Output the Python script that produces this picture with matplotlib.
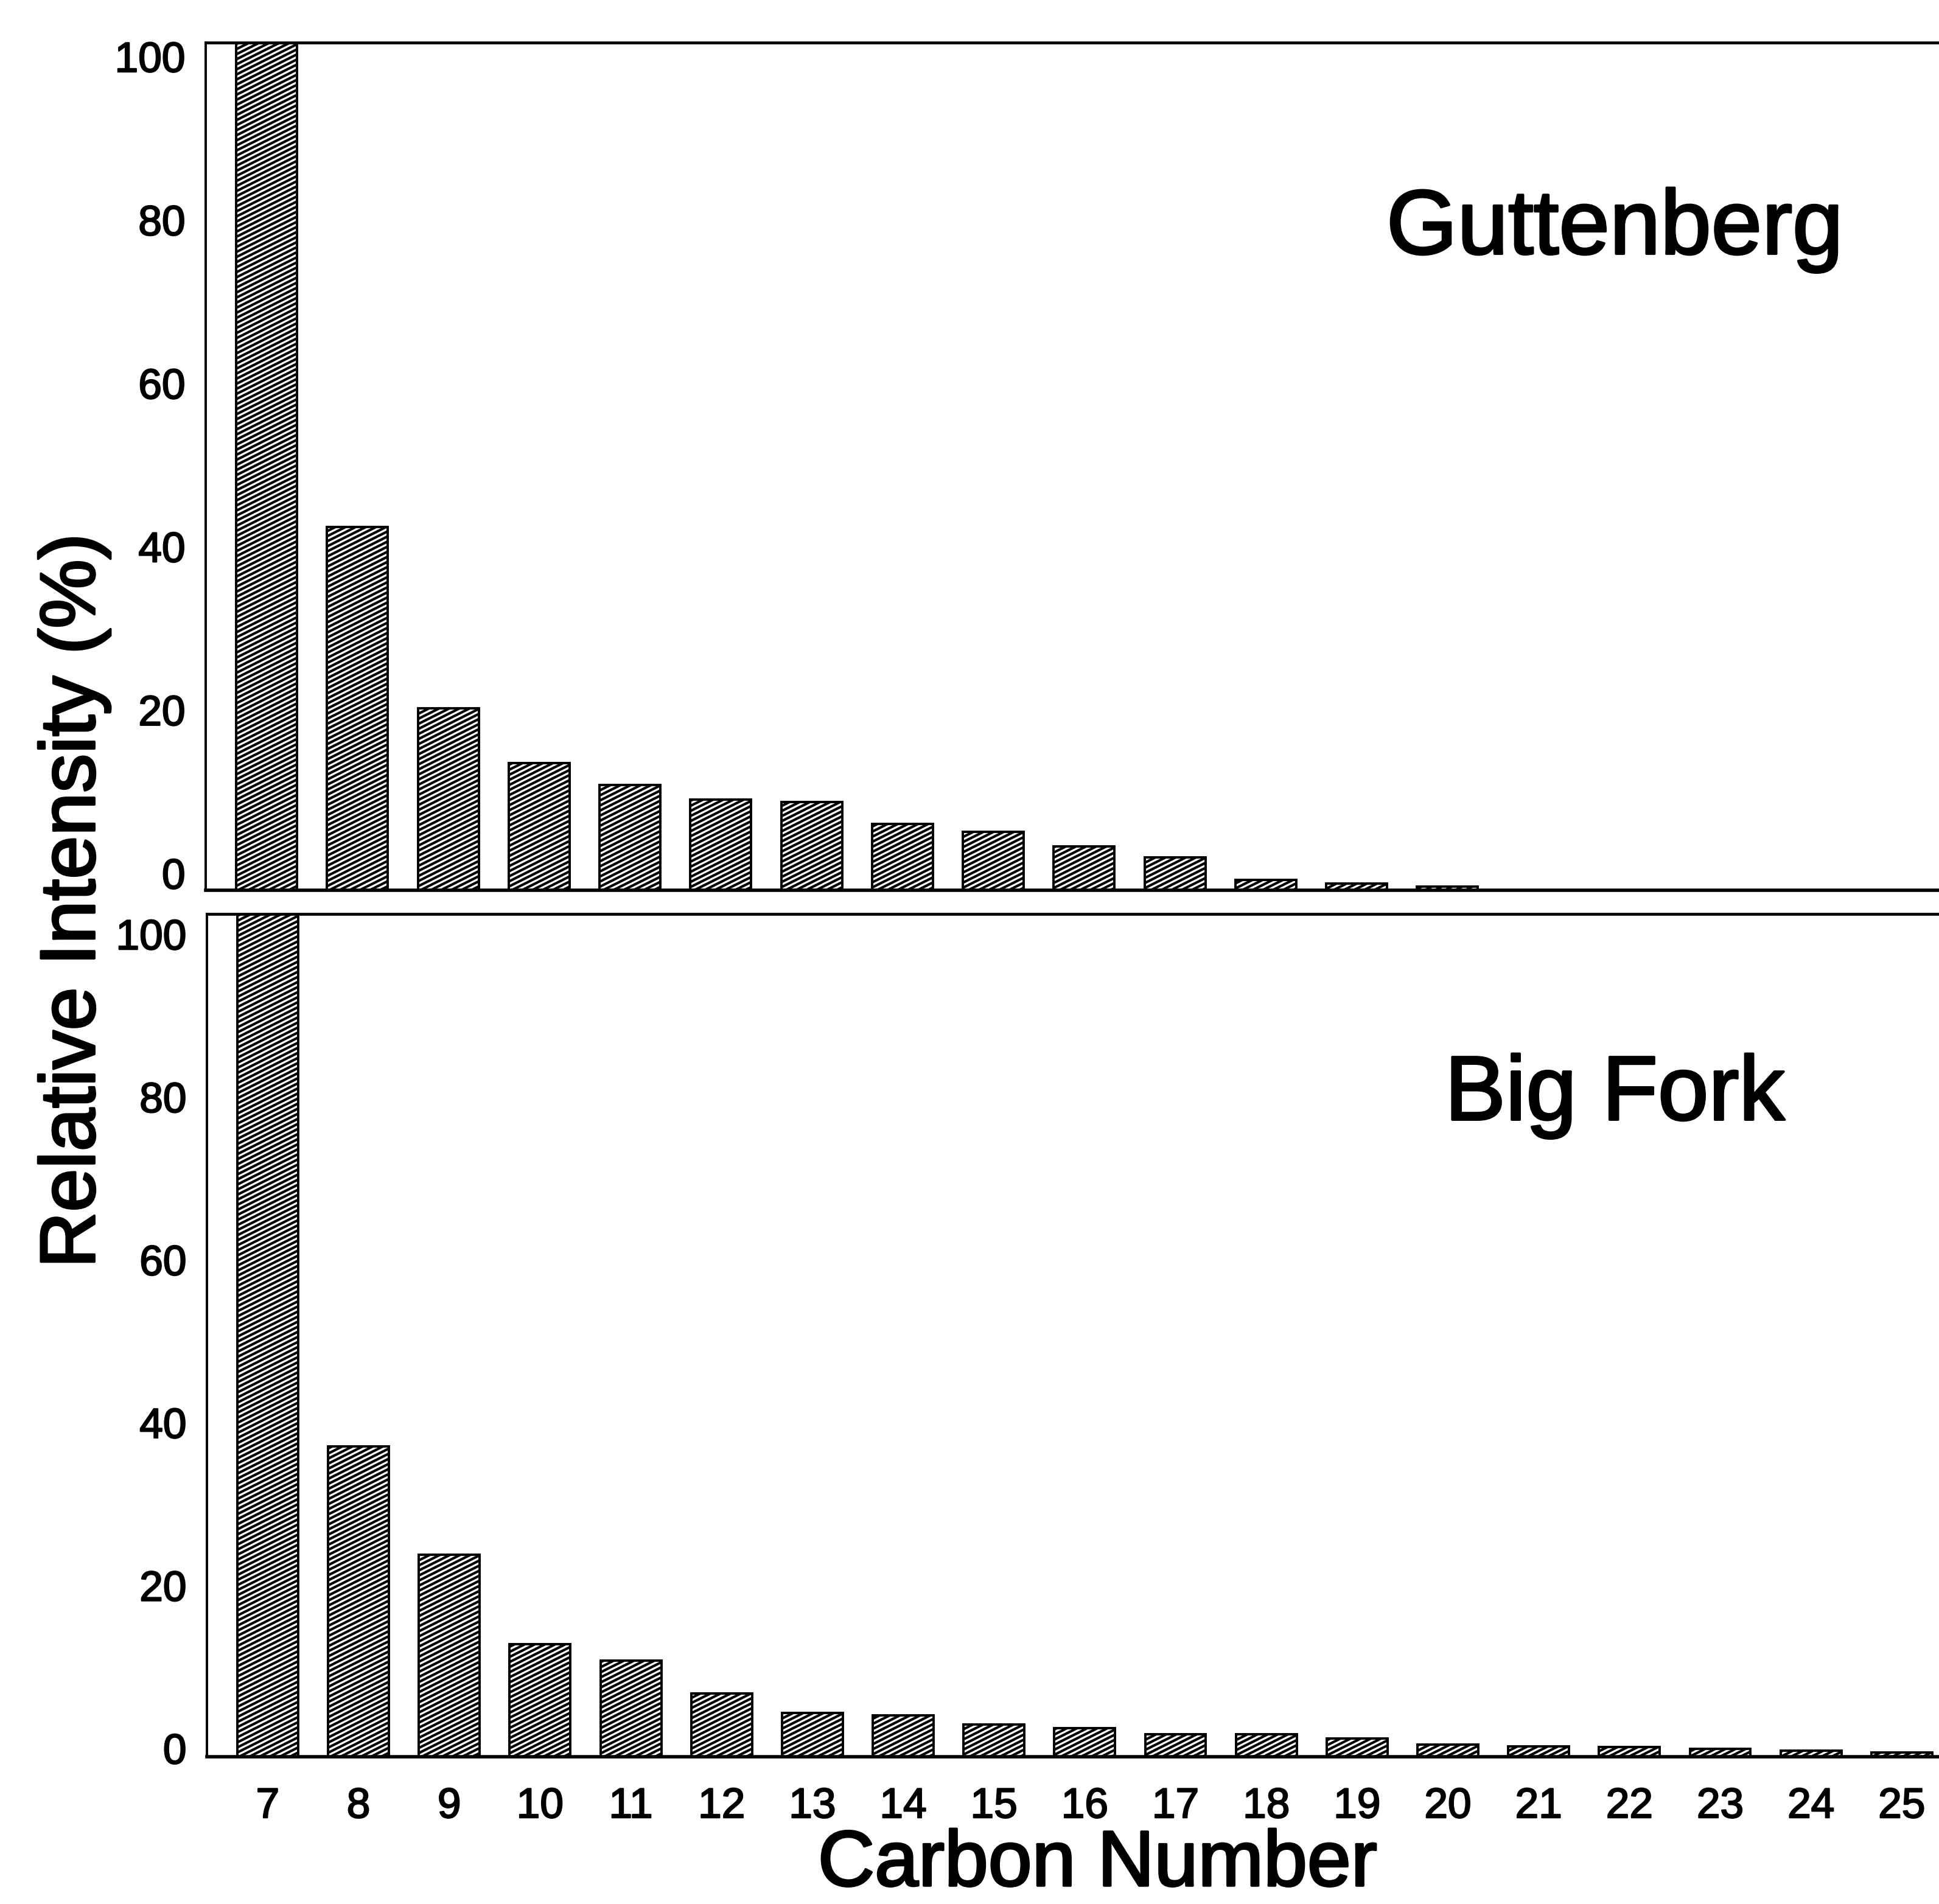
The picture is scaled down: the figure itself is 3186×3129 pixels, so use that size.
import matplotlib
matplotlib.use("Agg")
import matplotlib.pyplot as plt
import matplotlib.hatch as mhatch
import matplotlib.patheffects as pe
from matplotlib.path import Path
import numpy as np

# ---------------- data ----------------
carbon_numbers = list(range(7, 26))
guttenberg = [100, 42.9, 21.5, 15.0, 12.4, 10.7, 10.4, 7.8, 6.9, 5.2, 3.9,
              1.2, 0.8, 0.45, 0, 0, 0, 0, 0]
big_fork = [100, 36.8, 24.0, 13.4, 11.4, 7.5, 5.2, 4.9, 3.8, 3.4, 2.7,
            2.7, 2.2, 1.45, 1.25, 1.2, 0.95, 0.7, 0.5]
panel_names = ["Guttenberg", "Big Fork"]
y_tick_values = [0, 20, 40, 60, 80, 100]
x_label = "Carbon Number"
y_label = "Relative Intensity (%)"


# ---------------- shallow diagonal hatch (like the printed figure) ----------------
class ShallowNorthEastHatch(mhatch.HatchPatternBase):
    def __init__(self, hatch, density):
        self.num_lines = 25 if hatch.count('/') else 0
        self.num_vertices = self.num_lines * 2

    def set_vertices_and_codes(self, vertices, codes):
        offs = np.arange(-9, 16) / 12.0
        slope = 0.5
        x0, x1 = -0.5, 1.5
        vertices[0::2, 0] = x0
        vertices[0::2, 1] = offs + slope * x0
        vertices[1::2, 0] = x1
        vertices[1::2, 1] = offs + slope * x1
        codes[0::2] = Path.MOVETO
        codes[1::2] = Path.LINETO


mhatch._hatch_types = [ShallowNorthEastHatch if t is mhatch.NorthEastHatch else t
                       for t in mhatch._hatch_types]

plt.rcParams['font.family'] = ['Liberation Sans', 'DejaVu Sans']
plt.rcParams['hatch.linewidth'] = 3.0
plt.rcParams['hatch.color'] = 'black'

small_fx = [pe.withStroke(linewidth=1.6, foreground='black')]
big_fx = [pe.withStroke(linewidth=2.6, foreground='black')]

fig = plt.figure(figsize=(31.86, 31.29), dpi=100)
fig.patch.set_facecolor('white')

ax_top = fig.add_axes([0.1061, 0.5324, 0.8939, 0.4452])
ax_bot = fig.add_axes([0.1067, 0.0773, 0.8933, 0.4427])

# label placement (printed labels sit slightly inside the frame)
label_shift = {"top": (2.0, 0.9635), "bot": (1.0, 0.966)}

for ax, values, name, key in [(ax_top, guttenberg, panel_names[0], "top"),
                              (ax_bot, big_fork, panel_names[1], "bot")]:
    ax.bar(carbon_numbers, values, width=0.67, facecolor='white',
           edgecolor='black', linewidth=2.8, hatch='/', zorder=2)
    ax.set_xlim(6.33, 25.41)
    ax.set_ylim(0, 100)
    a, b = label_shift[key]
    ax.set_yticks([a + b * v for v in y_tick_values],
                  labels=[str(v) for v in y_tick_values])
    ax.spines['right'].set_visible(False)
    ax.spines['top'].set_linewidth(3.4)
    ax.spines['bottom'].set_linewidth(4.0)
    ax.spines['left'].set_linewidth(2.8)
    ax.tick_params(axis='both', length=0, labelsize=50)
    ax.tick_params(axis='y', pad=24)
    ax.tick_params(axis='x', pad=36)
    ax.set_facecolor('white')

ax_top.set_xticks(carbon_numbers, labels=[])
ax_bot.set_xticks(carbon_numbers, labels=[str(c) for c in carbon_numbers])

for ax in (ax_top, ax_bot):
    for lab in ax.get_xticklabels() + ax.get_yticklabels():
        lab.set_path_effects(small_fx)

# panel names
fig.text(0.8327, 0.8667, panel_names[0], fontsize=108, ha='center',
         va='baseline', path_effects=big_fx)
fig.text(0.8327, 0.4119, panel_names[1], fontsize=108, ha='center',
         va='baseline', path_effects=big_fx)

# axis titles
fig.text(0.566, 0.001, x_label, fontsize=93, ha='center', va='bottom',
         path_effects=big_fx)
fig.text(0.0487, 0.5267, y_label, fontsize=92, ha='center', va='baseline',
         rotation=90, rotation_mode='anchor', path_effects=big_fx)

fig.savefig("out.png", dpi=100, facecolor='white')
